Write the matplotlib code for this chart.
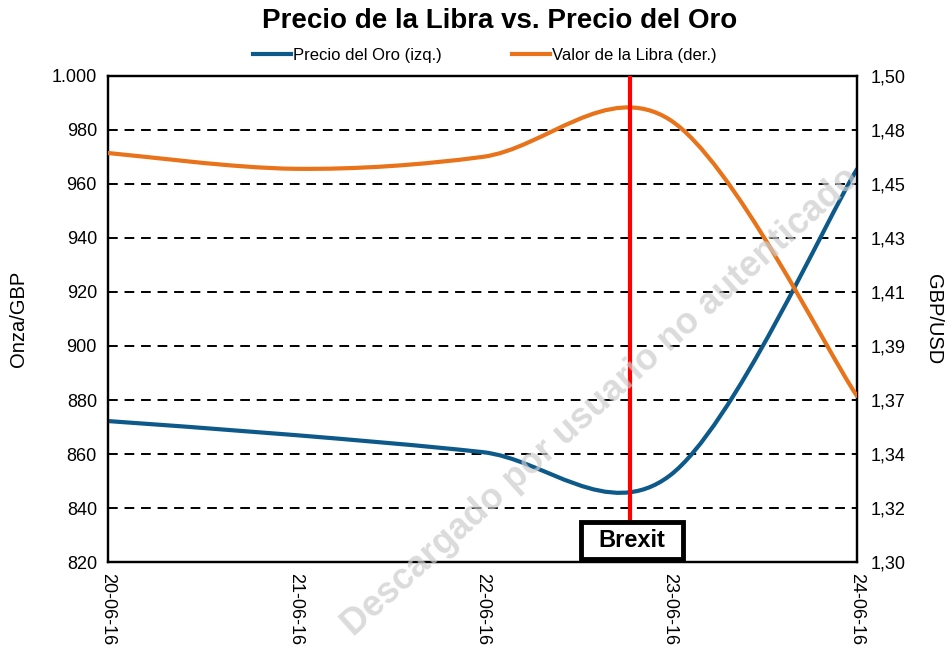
import numpy as np
import matplotlib
matplotlib.use("Agg")
from matplotlib import pyplot as plt
from matplotlib.path import Path
from matplotlib.patches import PathPatch, Rectangle
from matplotlib.lines import Line2D

plt.rcParams['font.family'] = ['Liberation Sans', 'DejaVu Sans']

# data (days from 20-06-16)
fechas = ["20-06-16", "21-06-16", "22-06-16", "23-06-16", "24-06-16"]
dias = [0, 1, 2, 3, 4]
oro = [872.2, 867.0, 860.7, 852.0, 965.5]          # Onza/GBP (izq.)
libra = [1.4683, 1.4618, 1.4667, 1.4820, 1.3683]   # GBP/USD (der.)

y_izq_ticks = [820, 840, 860, 880, 900, 920, 940, 960, 980, 1000]
y_izq_labels = ["820", "840", "860", "880", "900", "920", "940", "960", "980", "1.000"]
y_der_labels = ["1,30", "1,32", "1,34", "1,37", "1,39", "1,41", "1,43", "1,45", "1,48", "1,50"]
brexit_dia = 2.788

c_oro = "#0d5a8a"
c_libra = "#e8731a"


def smooth_path(x, y):
    """ Excel-like smoothed line: cubic Bezier through the points """
    x = np.asarray(x, float)
    y = np.asarray(y, float)
    n = len(x)
    px = np.concatenate([[x[0]], x, [x[-1]]])
    py = np.concatenate([[y[0]], y, [y[-1]]])
    verts = [(x[0], y[0])]
    codes = [Path.MOVETO]
    for i in range(n - 1):
        j = i + 1
        c1 = (x[i] + (px[j + 1] - px[j - 1]) / 6, y[i] + (py[j + 1] - py[j - 1]) / 6)
        c2 = (x[i + 1] - (px[j + 2] - px[j]) / 6, y[i + 1] - (py[j + 2] - py[j]) / 6)
        verts += [c1, c2, (x[i + 1], y[i + 1])]
        codes += [Path.CURVE4] * 3
    return Path(verts, codes)


fig = plt.figure(figsize=(9.5, 6.46), dpi=100)
ax = fig.add_axes([0.1137, 0.13, 0.7884, 0.7524])
ax2 = ax.twinx()

ax.set_xlim(0, 4)
ax.set_ylim(820, 1000)
ax2.set_ylim(1.30, 1.50)

for v in y_izq_ticks[1:-1]:
    ax.axhline(v, color='black', lw=1.4, ls=(0, (5, 3.5)), zorder=1)

ax.add_patch(PathPatch(smooth_path(dias, oro), fill=False, ec=c_oro, lw=3,
                       capstyle='round', zorder=3))
ax2.add_patch(PathPatch(smooth_path(dias, libra), fill=False, ec=c_libra, lw=3,
                        capstyle='round', zorder=3))

# Brexit marker
ax2.plot([brexit_dia, brexit_dia], [1.50, 1.316], color='red', lw=3, zorder=4)
ax2.add_patch(Rectangle((0.6315, 0.006), 0.1362, 0.076, transform=ax2.transAxes,
                        fc='white', ec='black', lw=3.5, zorder=5))
ax2.text(0.6996, 0.044, "Brexit", ha='center', va='center', fontsize=17,
         fontweight='bold', zorder=6, transform=ax2.transAxes)

ax.set_yticks(y_izq_ticks)
ax.set_yticklabels(y_izq_labels, fontsize=13)
ax2.set_yticks(np.linspace(1.30, 1.50, 10))
ax2.set_yticklabels(y_der_labels, fontsize=13)
ax.set_xticks(dias)
ax.set_xticklabels(fechas, rotation=-90, fontsize=13, va='top')
ax.tick_params(length=0, pad=8)
ax2.tick_params(length=0, pad=10)
ax.tick_params(axis='x', pad=8)

for a in (ax, ax2):
    for s in a.spines.values():
        s.set_linewidth(1.6)

ax.set_ylabel("Onza/GBP", fontsize=14.5, labelpad=17)
ax2.set_ylabel("GBP/USD", fontsize=14.5, rotation=-90, labelpad=27)

fig.suptitle("Precio de la Libra vs. Precio del Oro", fontsize=20,
             fontweight='bold', x=0.526, y=0.988)

handles = [Line2D([], [], color=c_oro, lw=3), Line2D([], [], color=c_libra, lw=3)]
fig.legend(handles, ["Precio del Oro (izq.)", "Valor de la Libra (der.)"],
           loc='center', bbox_to_anchor=(0.510, 0.914), ncol=2, frameon=False,
           fontsize=12, handlelength=2.3, handletextpad=0.1, columnspacing=4.2)

# watermark
fig.text(0.632, 0.378, "Descargado por usuario no autenticado", fontsize=26,
         fontweight='bold', color='#cccccc', alpha=0.7, rotation=42,
         ha='center', va='center', zorder=10)

fig.savefig("out.png", dpi=100)
